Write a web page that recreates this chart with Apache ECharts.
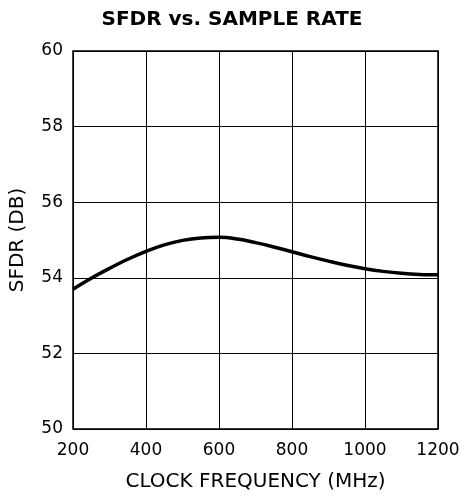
<!DOCTYPE html>
<html><head><meta charset="utf-8">
<script src="https://cdn.jsdelivr.net/npm/echarts@6/dist/echarts.min.js"></script>
<style>html,body{margin:0;padding:0;background:#fff}#c{width:464px;height:500px}</style>
</head><body><div id="c"></div>
<script>
const freqMHz = [200,250,300,350,400,450,500,550,600,650,700,750,800,850,900,950,1000,1050,1100,1150,1200];
const sfdrDb = [53.70,53.99,54.25,54.49,54.70,54.87,54.99,55.055,55.07,55.025,54.93,54.815,54.69,54.56,54.44,54.33,54.24,54.17,54.12,54.09,54.08];
const titleText = 'SFDR vs. SAMPLE RATE';
const xName = 'CLOCK FREQUENCY (MHz)';
const yName = 'SFDR (DB)';

const chart = echarts.init(document.getElementById('c'));
const font = 'DejaVu Sans, sans-serif';
chart.setOption({
  animation: false,
  title: {text: titleText, left: 'center', top: 5, textStyle: {fontFamily: font, fontSize: 20, fontWeight: 'bold', color: '#000'}},
  grid: {left: 72.5, right: 26, top: 51, bottom: 71, show: true, borderColor: '#000', borderWidth: 1.5},
  xAxis: {type: 'value', min: 200, max: 1200, interval: 200,
    name: xName, nameLocation: 'middle', nameGap: 43,
    nameTextStyle: {fontFamily: font, fontSize: 20, color: '#000'},
    axisLine: {show: false}, axisTick: {show: false},
    axisLabel: {fontFamily: font, fontSize: 17, color: '#000', margin: 13, formatter: v => String(v)},
    splitLine: {show: true, lineStyle: {color: '#000', width: 1}}},
  yAxis: {type: 'value', min: 50, max: 60, interval: 2,
    name: yName, nameLocation: 'middle', nameGap: 45, nameRotate: 90,
    nameTextStyle: {fontFamily: font, fontSize: 20, color: '#000'},
    axisLine: {show: false}, axisTick: {show: false},
    axisLabel: {fontFamily: font, fontSize: 17, color: '#000', margin: 10},
    splitLine: {show: true, lineStyle: {color: '#000', width: 1}}},
  series: [{type: 'line', data: freqMHz.map((f, i) => [f, sfdrDb[i]]), smooth: 0.4, showSymbol: false,
    lineStyle: {color: '#000', width: 3.5}}]
});
</script></body></html>
